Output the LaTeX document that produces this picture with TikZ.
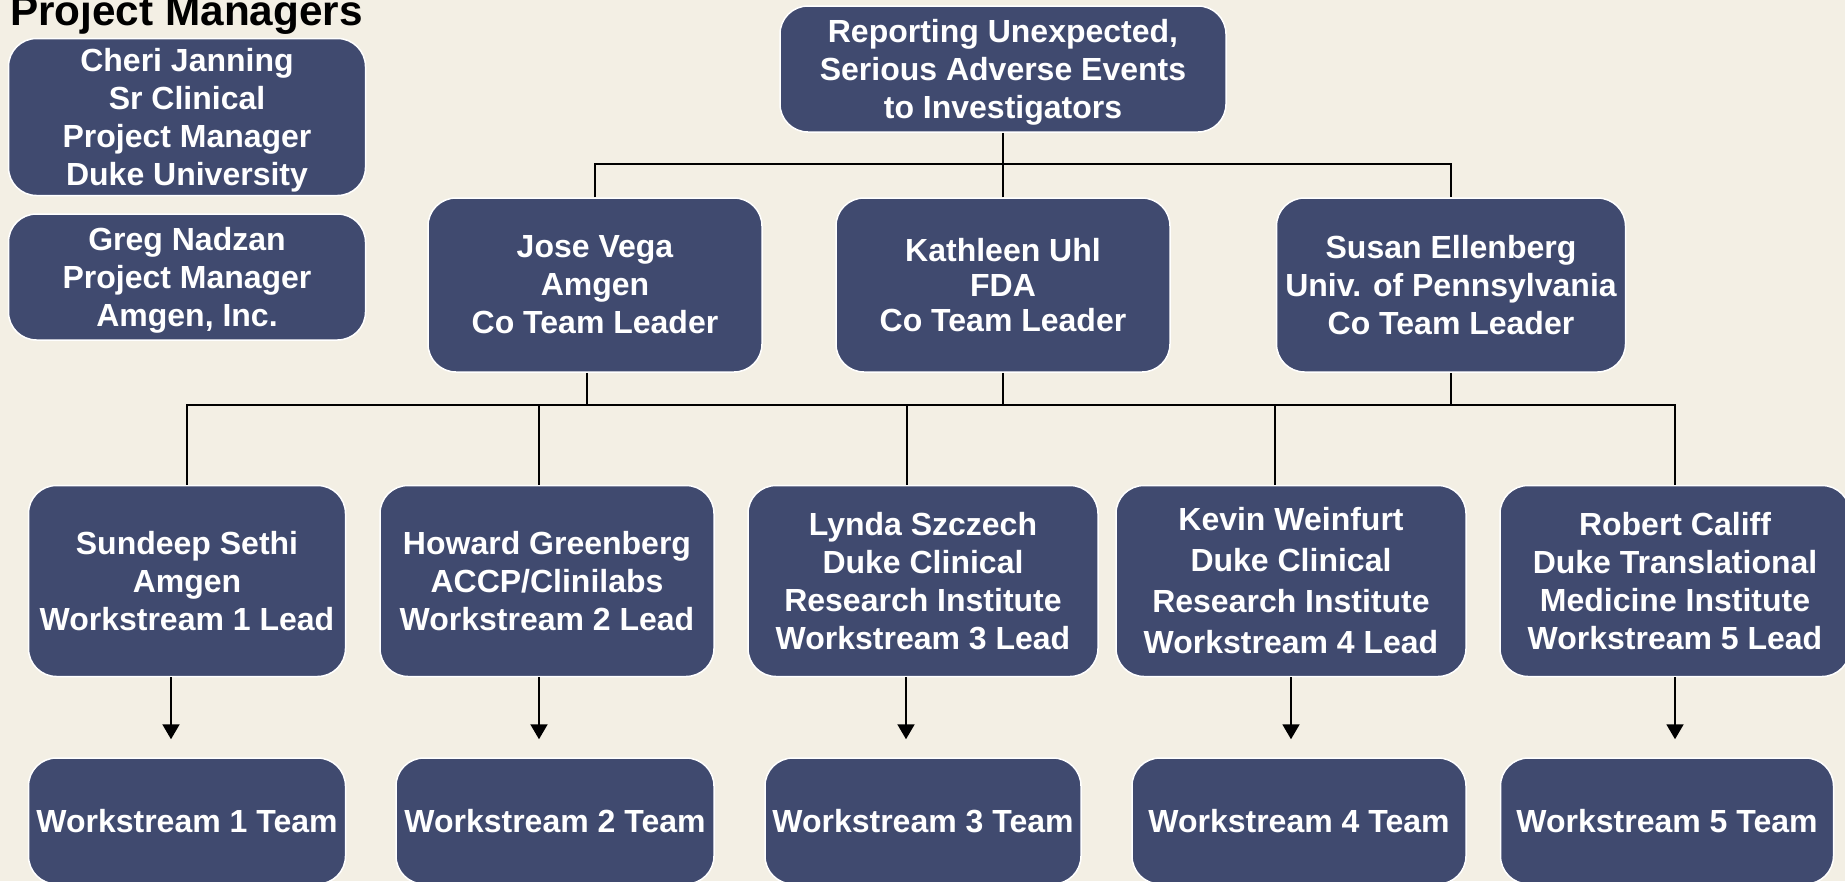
\documentclass[tikz,border=0pt]{standalone}
\usepackage{fontspec}
\setmainfont{Liberation Sans}
\usepackage{tikz}
\usetikzlibrary{arrows.meta}

\definecolor{paper}{RGB}{243,239,228}
\definecolor{slate}{RGB}{64,74,111}
% taller first line, pushes the text a little lower in its box
\newcommand{\topgap}{\rule{0pt}{30pt}}

\begin{document}
\begin{tikzpicture}
[x=1pt,y=-1pt,
 box/.style={draw=white,line width=1.5pt,fill=slate,rounded corners=28pt,text=white,
   font=\bfseries\fontsize{32}{38}\selectfont,align=center,inner sep=0pt},
 pm/.style={box,minimum width=357pt},
 chief/.style={box,minimum height=174pt},
 lead/.style={box,minimum height=191pt},
 team/.style={box,minimum height=126pt},
 wire/.style={line width=2pt},
 down/.style={line width=2pt,-{Triangle[length=15pt,width=17pt]},shorten >=18pt}]
\path[use as bounding box,fill=paper] (0,0) rectangle (1845,881);
% managers on the left
\node[anchor=base west,inner sep=0pt,font=\bfseries\fontsize{42.3}{48}\selectfont] (pmt) at (10,25) {Project Managers};
\node[pm,minimum height=157pt] (pm1) at (187,117) {\topgap Cheri Janning\\Sr Clinical\\Project Manager\\Duke University};
\node[pm,minimum height=126pt] (pm2) at (187,277) {\topgap Greg Nadzan\\Project Manager\\Amgen, Inc.};
% top of the tree
\node[box,minimum width=446pt,minimum height=126pt] (top) at (1003,69) {\topgap Reporting Unexpected,\\Serious Adverse Events\\to Investigators};
\node[chief,minimum width=334pt] (vega) at (595,285) {Jose Vega\\Amgen\\Co Team Leader};
\node[chief,minimum width=334pt,font=\bfseries\fontsize{32}{35}\selectfont] (uhl) at (1003,285) {Kathleen Uhl\\FDA\\Co Team Leader};
\node[chief,minimum width=349pt] (ellen) at (1451,285) {Susan Ellenberg\\Univ. of Pennsylvania\\Co Team Leader};
% workstream leads
\node[lead,minimum width=317pt] (sethi) at (187,581) {Sundeep Sethi\\Amgen\\Workstream 1 Lead};
\node[lead,minimum width=334pt] (green) at (547,581) {Howard Greenberg\\ACCP/Clinilabs\\Workstream 2 Lead};
\node[lead,minimum width=350pt] (szcz) at (923,581) {Lynda Szczech\\Duke Clinical\\Research Institute\\Workstream 3 Lead};
\node[lead,minimum width=350pt,font=\bfseries\fontsize{32}{41}\selectfont] (wein) at (1291,581) {Kevin Weinfurt\\Duke Clinical\\Research Institute\\Workstream 4 Lead};
\node[lead,minimum width=350pt] (califf) at (1675,581) {Robert Califf\\Duke Translational\\Medicine Institute\\Workstream 5 Lead};
% teams
\node[team,minimum width=317pt] (t1) at (187,821) {Workstream 1 Team};
\node[team,minimum width=318pt] (t2) at (555,821) {Workstream 2 Team};
\node[team,minimum width=316pt] (t3) at (923,821) {Workstream 3 Team};
\node[team,minimum width=334pt] (t4) at (1299,821) {Workstream 4 Team};
\node[team,minimum width=333pt] (t5) at (1667,821) {Workstream 5 Team};
% bus lines
\coordinate (b1) at (0,164);
\coordinate (b2) at (0,405);
\draw[wire] (top.south) -- (top.south |- b1);
\draw[wire] (vega.north) |- (ellen.north |- b1) -- (ellen.north);
\draw[wire] (uhl.north) -- (uhl.north |- b1);
\draw[wire] ([xshift=-8pt]vega.south) -- ([xshift=-8pt]vega.south |- b2);
\draw[wire] (uhl.south) -- (uhl.south |- b2);
\draw[wire] (ellen.south) -- (ellen.south |- b2);
\draw[wire] (sethi.north) |- (califf.north |- b2) -- (califf.north);
\draw[wire] ([xshift=-8pt]green.north) -- ([xshift=-8pt]green.north |- b2);
\draw[wire] ([xshift=-16pt]szcz.north) -- ([xshift=-16pt]szcz.north |- b2);
\draw[wire] ([xshift=-16pt]wein.north) -- ([xshift=-16pt]wein.north |- b2);
% leads to teams
\draw[down] ([xshift=-16pt]sethi.south) -- ([xshift=-16pt]sethi.south |- t1.north);
\draw[down] ([xshift=-8pt]green.south) -- ([xshift=-8pt]green.south |- t2.north);
\draw[down] ([xshift=-17pt]szcz.south) -- ([xshift=-17pt]szcz.south |- t3.north);
\draw[down] (wein.south) -- (wein.south |- t4.north);
\draw[down] (califf.south) -- (califf.south |- t5.north);
\end{tikzpicture}
\end{document}
